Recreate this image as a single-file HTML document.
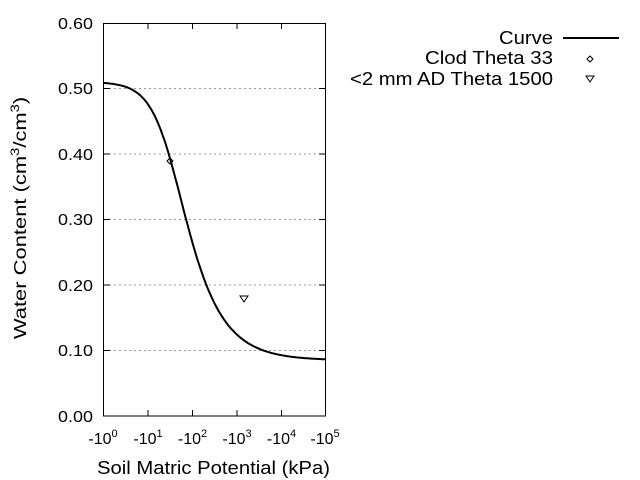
<!DOCTYPE html>
<html><head><style>body{margin:0;background:#fff}svg{display:block;font-family:"Liberation Sans",sans-serif}</style></head><body>
<svg width="640" height="480" xmlns="http://www.w3.org/2000/svg">
<g stroke="#999" stroke-dasharray="2,3" stroke-width="1">
<line x1="104" y1="88.5" x2="325" y2="88.5"/><line x1="104" y1="154" x2="325" y2="154"/><line x1="104" y1="219.5" x2="325" y2="219.5"/><line x1="104" y1="285" x2="325" y2="285"/><line x1="104" y1="350.5" x2="325" y2="350.5"/>
</g>
<rect x="103.5" y="23.5" width="222" height="392.5" fill="none" stroke="#000" stroke-width="1"/>
<g stroke="#000">
<line x1="148" y1="23" x2="148" y2="29"/><line x1="192.5" y1="23" x2="192.5" y2="29"/><line x1="237" y1="23" x2="237" y2="29"/><line x1="281.5" y1="23" x2="281.5" y2="29"/>
<line x1="148" y1="416" x2="148" y2="410"/><line x1="192.5" y1="416" x2="192.5" y2="410"/><line x1="237" y1="416" x2="237" y2="410"/><line x1="281.5" y1="416" x2="281.5" y2="410"/>
<line x1="104" y1="88.5" x2="110" y2="88.5"/><line x1="104" y1="154" x2="110" y2="154"/><line x1="104" y1="219.5" x2="110" y2="219.5"/><line x1="104" y1="285" x2="110" y2="285"/><line x1="104" y1="350.5" x2="110" y2="350.5"/>
<line x1="325" y1="88.5" x2="319" y2="88.5"/><line x1="325" y1="154" x2="319" y2="154"/><line x1="325" y1="219.5" x2="319" y2="219.5"/><line x1="325" y1="285" x2="319" y2="285"/><line x1="325" y1="350.5" x2="319" y2="350.5"/>
</g>
<g font-size="16" text-anchor="end">
<text x="93" y="29" textLength="35" lengthAdjust="spacingAndGlyphs">0.60</text><text x="93" y="94" textLength="35" lengthAdjust="spacingAndGlyphs">0.50</text><text x="93" y="160" textLength="35" lengthAdjust="spacingAndGlyphs">0.40</text><text x="93" y="225" textLength="35" lengthAdjust="spacingAndGlyphs">0.30</text><text x="93" y="291" textLength="35" lengthAdjust="spacingAndGlyphs">0.20</text><text x="93" y="356" textLength="35" lengthAdjust="spacingAndGlyphs">0.10</text><text x="93" y="422" textLength="35" lengthAdjust="spacingAndGlyphs">0.00</text>
</g>
<g font-size="16" text-anchor="middle">
<text x="103" y="444">-10<tspan font-size="11" dy="-7">0</tspan></text>
<text x="148" y="444">-10<tspan font-size="11" dy="-7">1</tspan></text>
<text x="192.5" y="444">-10<tspan font-size="11" dy="-7">2</tspan></text>
<text x="237" y="444">-10<tspan font-size="11" dy="-7">3</tspan></text>
<text x="281.5" y="444">-10<tspan font-size="11" dy="-7">4</tspan></text>
<text x="325" y="444">-10<tspan font-size="11" dy="-7">5</tspan></text>
</g>
<text x="97" y="474" font-size="18" textLength="233" lengthAdjust="spacingAndGlyphs">Soil Matric Potential (kPa)</text>
<g transform="translate(26,218) rotate(-90) scale(1.22,1)"><text x="0" y="0" font-size="18" text-anchor="middle">Water Content (cm<tspan font-size="12" dy="-7">3</tspan><tspan dy="7">/cm</tspan><tspan font-size="12" dy="-7">3</tspan><tspan dy="7">)</tspan></text></g>
<path id="curve" fill="none" stroke="#000" stroke-width="2" d=""/>
<path d="M170,158 L173,161 L170,164 L167,161 Z" fill="none" stroke="#000"/>
<path d="M240,296 L248,296 L244,302 Z" fill="none" stroke="#000"/>
<g font-size="18" text-anchor="end">
<text x="553" y="44" textLength="54" lengthAdjust="spacingAndGlyphs">Curve</text>
<text x="553" y="64" textLength="128" lengthAdjust="spacingAndGlyphs">Clod Theta 33</text>
<text x="553" y="85" textLength="203" lengthAdjust="spacingAndGlyphs">&lt;2 mm AD Theta 1500</text>
</g>
<line x1="563" y1="38" x2="619" y2="38" stroke="#000" stroke-width="2"/>
<path d="M590,56 L593,59 L590,62 L587,59 Z" fill="none" stroke="#000"/>
<path d="M586,76 L594,76 L590,82 Z" fill="none" stroke="#000"/>
<script>
var d="";for(var i=0;i<=200;i++){var lg=i*5/200;var v=Math.pow(10,1.4*(lg-1.53));var se=Math.pow(1+v,-0.5);var th=0.085+0.425*se;var x=103.5+lg*44.4,y=416-th*655;d+=(i?"L":"M")+x.toFixed(1)+","+y.toFixed(1);}document.getElementById("curve").setAttribute("d",d);
</script>
</svg>
</body></html>
